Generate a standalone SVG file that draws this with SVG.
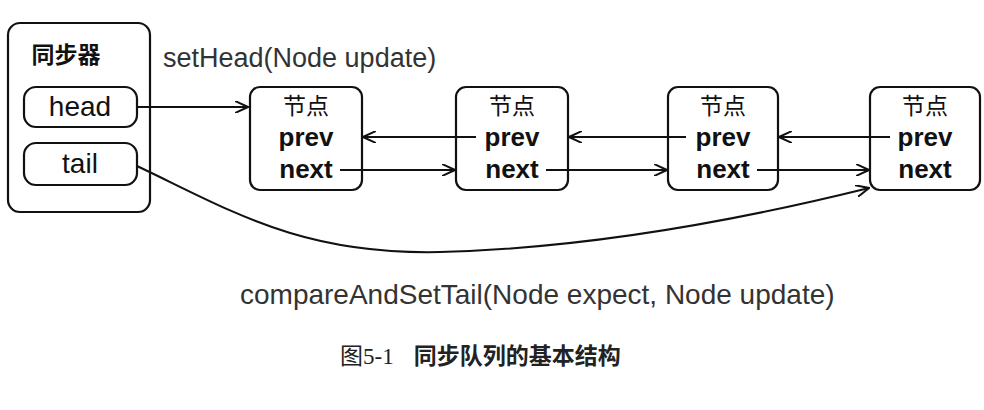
<svg xmlns="http://www.w3.org/2000/svg" width="984" height="410" viewBox="0 0 984 410">
<style>
.box{fill:#fff;stroke:#111;stroke-width:2.2}
.cj{font-family:"Noto Sans CJK SC",sans-serif;font-size:23px;fill:#111;text-anchor:middle}
.b{font-family:"Liberation Sans",Arial,sans-serif;font-weight:bold;font-size:26px;fill:#111;text-anchor:middle}
.lbl{font-family:"Liberation Sans",Arial,sans-serif;font-size:27px;fill:#333}
.hd{font-family:"Liberation Sans",Arial,sans-serif;font-size:28px;fill:#111;text-anchor:middle}
.ln{fill:none;stroke:#111;stroke-width:2}
</style>
<defs><marker id="a" viewBox="0 0 14 12" refX="13" refY="6" markerWidth="14" markerHeight="12" markerUnits="userSpaceOnUse" orient="auto"><path d="M0,0 L13,6 L0,12" fill="none" stroke="#111" stroke-width="2"/></marker></defs>
<g id="sync"><rect class="box" x="8" y="23" width="142" height="189" rx="12"/>
<text class="cj" x="66" y="63" font-weight="bold">同步器</text></g>
<g id="head"><rect class="box" x="24" y="87" width="113" height="40" rx="12"/><text x="80" y="116" class="hd">head</text></g>
<g id="tail"><rect class="box" x="24" y="143" width="113" height="42" rx="12"/><text x="80" y="173" class="hd">tail</text></g>
<g id="n1"><rect class="box" x="250" y="87" width="112" height="103" rx="10"/><text class="cj" x="306" y="114">节点</text><text class="b" x="306" y="146">prev</text><text class="b" x="306" y="178">next</text></g>
<g id="n2"><rect class="box" x="456" y="87" width="112" height="103" rx="10"/><text class="cj" x="512" y="114">节点</text><text class="b" x="512" y="146">prev</text><text class="b" x="512" y="178">next</text></g>
<g id="n3"><rect class="box" x="668" y="87" width="110" height="103" rx="10"/><text class="cj" x="723" y="114">节点</text><text class="b" x="723" y="146">prev</text><text class="b" x="723" y="178">next</text></g>
<g id="n4"><rect class="box" x="870" y="87" width="110" height="103" rx="10"/><text class="cj" x="925" y="114">节点</text><text class="b" x="925" y="146">prev</text><text class="b" x="925" y="178">next</text></g>
<g id="connectors">
<path class="ln" d="M137,107 H248" marker-end="url(#a)"/>
<path class="ln" d="M476,137 H363" marker-end="url(#a)"/>
<path class="ln" d="M686,137 H569" marker-end="url(#a)"/>
<path class="ln" d="M890,137 H779" marker-end="url(#a)"/>
<path class="ln" d="M340,170 H455" marker-end="url(#a)"/>
<path class="ln" d="M546,170 H667" marker-end="url(#a)"/>
<path class="ln" d="M757,170 H869" marker-end="url(#a)"/>
<path class="ln" d="M137,166 C230,210 300,255 440,252 C600,248 760,215 869,188" marker-end="url(#a)"/>
</g>
<text class="lbl" x="163" y="67">setHead(Node update)</text>
<text class="lbl" x="240" y="304" style="font-size:28px">compareAndSetTail(Node expect, Node update)</text>
<text x="340" y="364" style="font-family:'Liberation Serif','Noto Sans CJK SC',serif;font-size:23px;fill:#222">图5-1<tspan dx="20" font-family="Noto Sans CJK SC,sans-serif" font-weight="bold">同步队列的基本结构</tspan></text>
</svg>
